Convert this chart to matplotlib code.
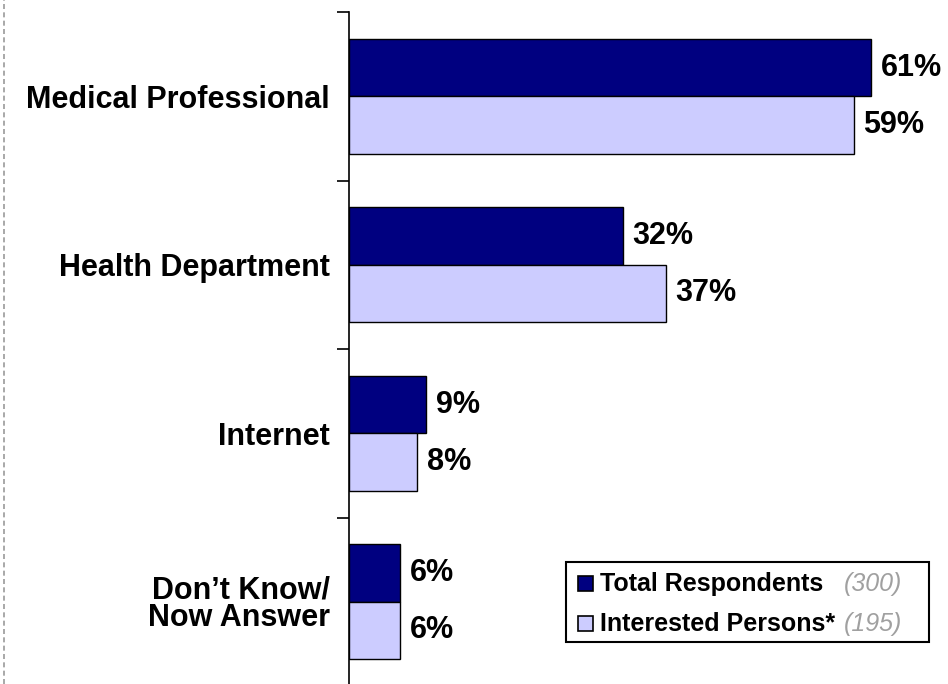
import matplotlib
matplotlib.use("Agg")
import matplotlib.pyplot as plt
from matplotlib.patches import Rectangle
import numpy as np

categories = ["Medical Professional", "Health Department", "Internet", "Don\u2019t Know/\nNow Answer"]
total = [61, 32, 9, 6]
interested = [59, 37, 8, 6]
series_names = ["Total Respondents", "Interested Persons*"]
series_n = ["(300)", "(195)"]
colors = ["#000080", "#CCCCFF"]

W, H = 948, 684
plt.rcParams['font.family'] = ['Liberation Sans', 'DejaVu Sans']
fig = plt.figure(figsize=(W / 100, H / 100), dpi=100)

def fx(px):
    return px / W

def fy(py):
    return 1 - py / H

ax = fig.add_axes([fx(349), fy(686), fx(948) - fx(349), fy(12) - fy(686)])
n = len(categories)
y = np.arange(n)
bh = 0.34
ax.barh(y - bh / 2, total, height=bh, color=colors[0], edgecolor="black", linewidth=1)
ax.barh(y + bh / 2, interested, height=bh, color=colors[1], edgecolor="black", linewidth=1)
ax.set_xlim(0, 70)
ax.set_ylim(n - 0.5, -0.5)

for i in range(n):
    ax.text(total[i] + 1.15, y[i] - bh / 2, f"{total[i]}%", va="center", ha="left",
            fontsize=22, fontweight="bold")
    ax.text(interested[i] + 1.1, y[i] + bh / 2, f"{interested[i]}%", va="center", ha="left",
            fontsize=22, fontweight="bold")

for s in ["top", "right", "bottom"]:
    ax.spines[s].set_visible(False)
ax.spines["left"].set_linewidth(1.2)
ax.set_xticks([])
ax.set_yticks(np.arange(n + 1) - 0.5)
ax.set_yticklabels([])
ax.tick_params(axis="y", which="major", length=9, width=1.2, direction="out")
ax.set_yticks(y, minor=True)
ax.set_yticklabels(categories, minor=True, fontsize=22, fontweight="bold", linespacing=0.92)
ax.tick_params(axis="y", which="minor", length=0, pad=14)

# dashed gray line at left
fig.add_artist(plt.Line2D([fx(4), fx(4)], [0, 1], color="#999999", linewidth=1.2,
                          linestyle=(0, (3, 2)), transform=fig.transFigure))

# legend
fig.add_artist(Rectangle((fx(566), fy(642)), fx(929) - fx(566), fy(562) - fy(642),
                         transform=fig.transFigure, facecolor="white", edgecolor="black",
                         linewidth=1.5))
rows_y = [584, 624]
for k in range(2):
    fig.add_artist(Rectangle((fx(578), fy(rows_y[k] + 7)), fx(15), fy(0) - fy(15),
                             transform=fig.transFigure, facecolor=colors[k],
                             edgecolor="black", linewidth=1.2))
    fig.text(fx(600), fy(rows_y[k]), series_names[k], fontsize=18, fontweight="bold",
             va="center", ha="left")
    fig.text(fx(844), fy(rows_y[k]), series_n[k], fontsize=18, fontstyle="italic",
             color="#A0A0A0", va="center", ha="left")

fig.savefig("out.png", dpi=100)
